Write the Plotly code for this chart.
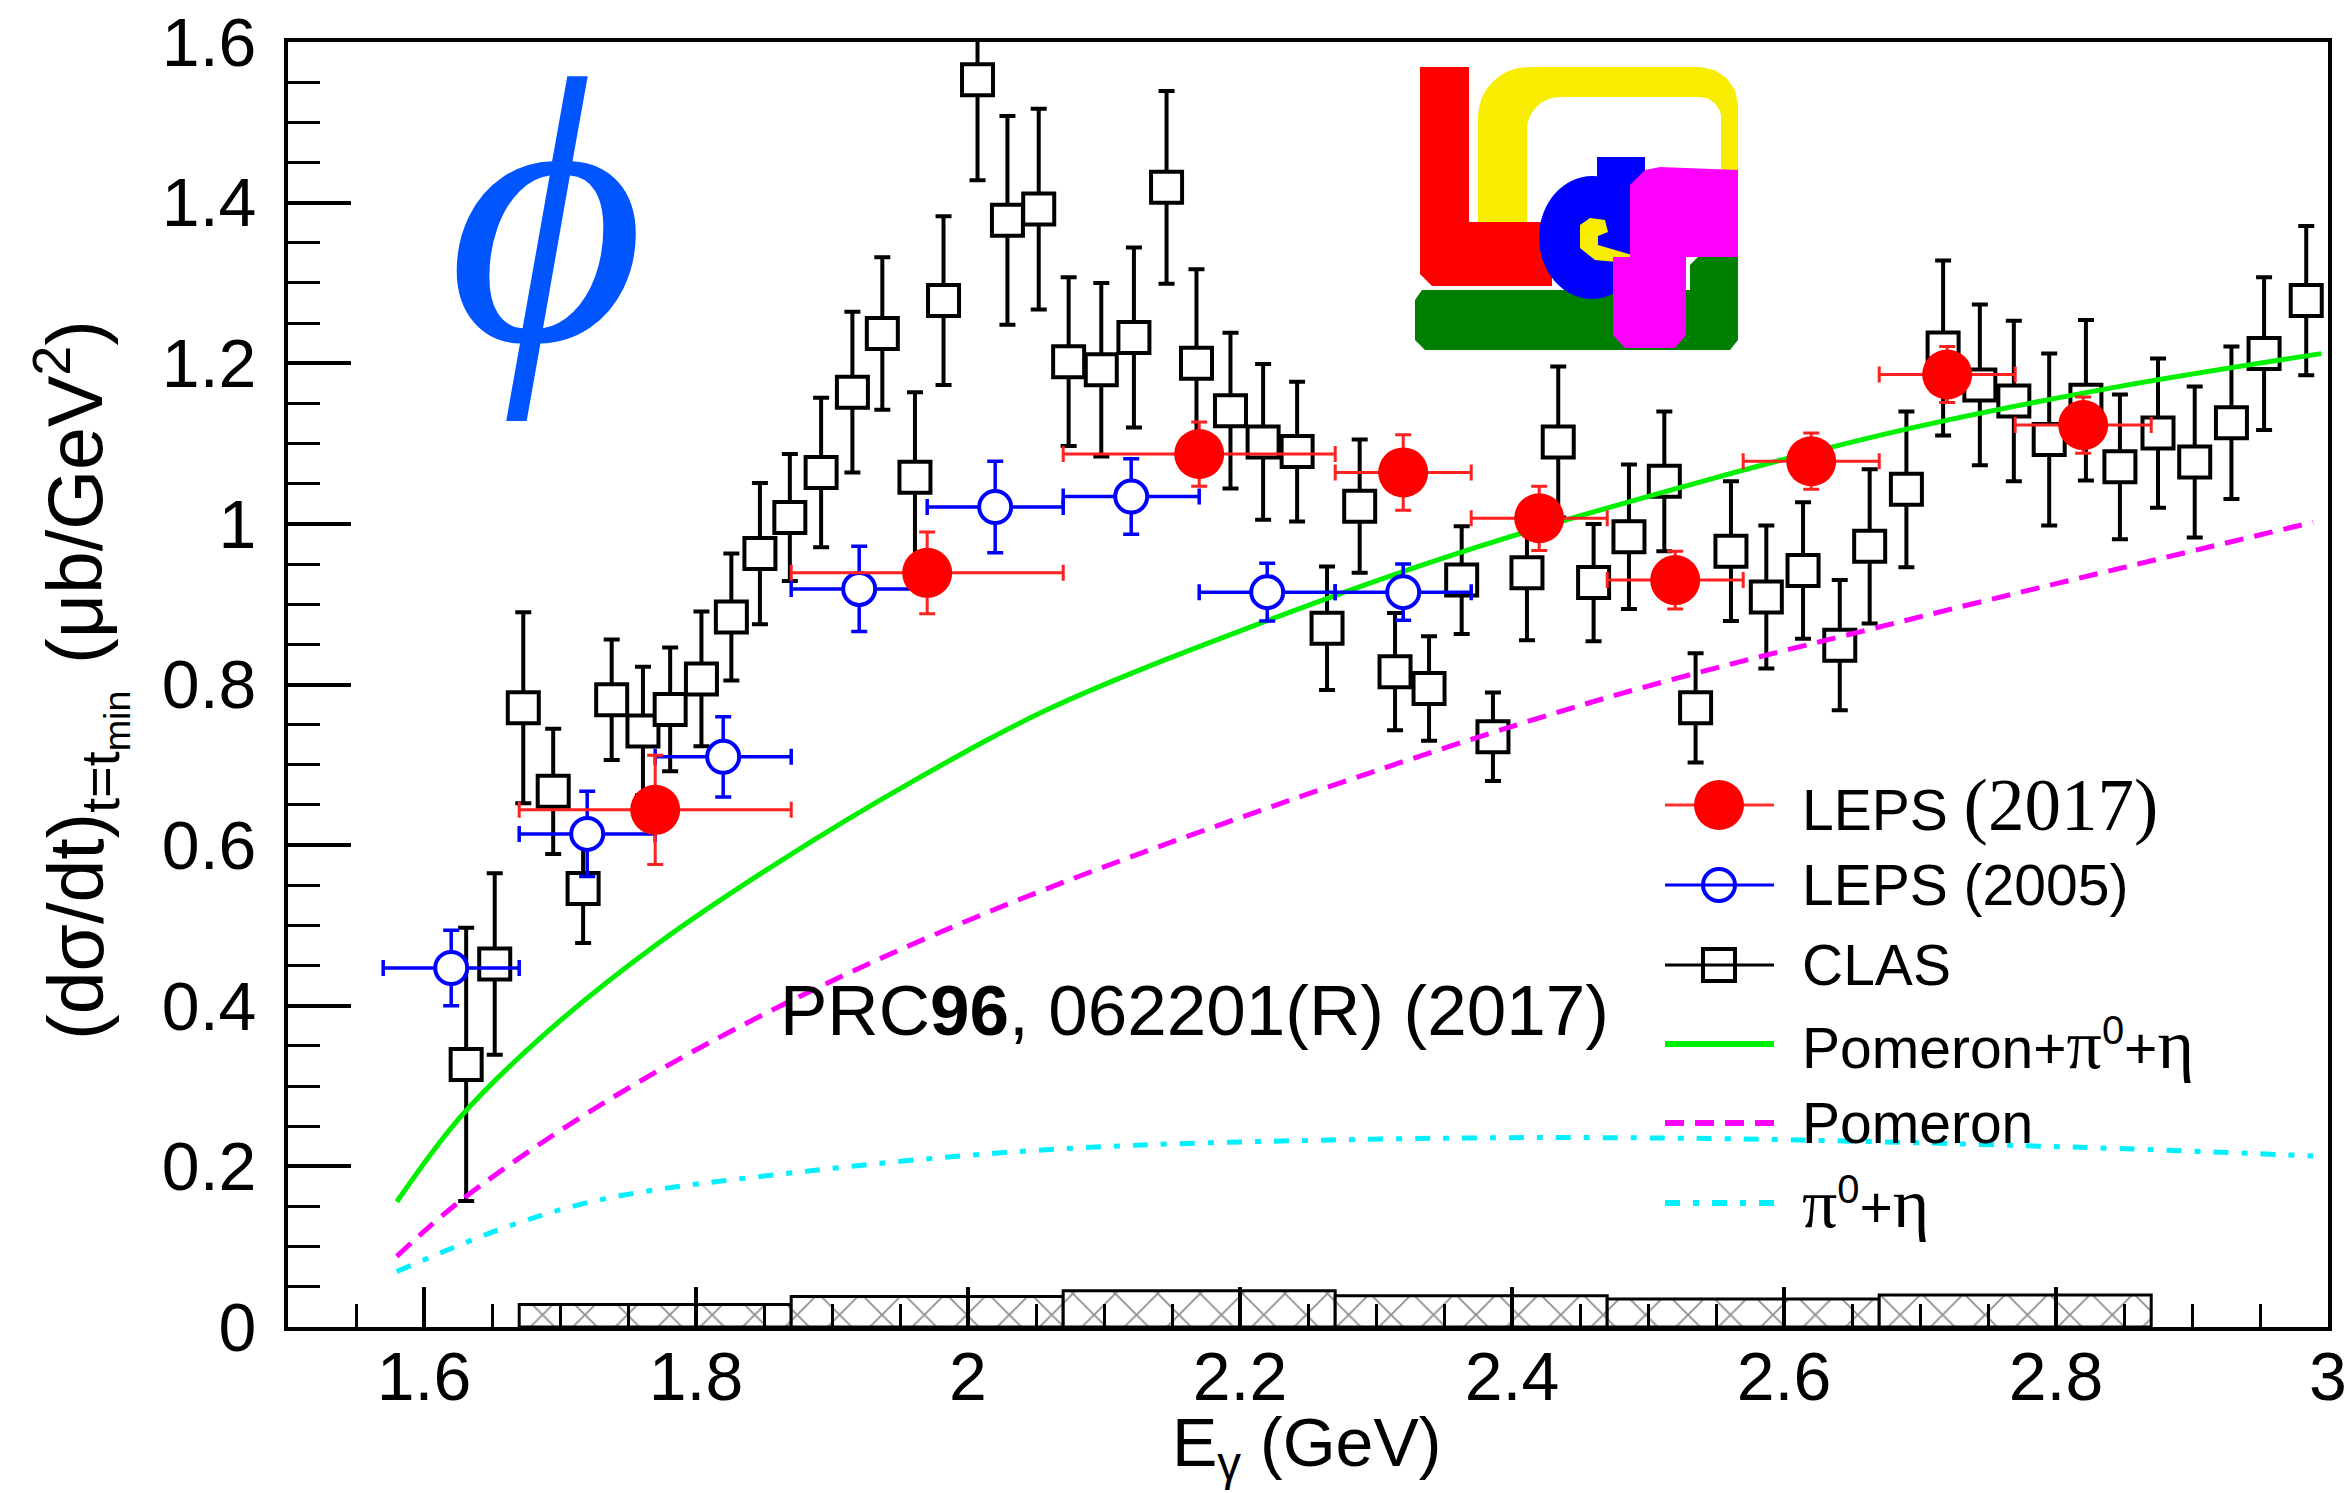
import math
import plotly.graph_objects as go

# ---------------- data ----------------
# CLAS
clas_e = [1.631, 1.652, 1.673, 1.695, 1.717, 1.738, 1.761, 1.781, 1.804, 1.826,
          1.847, 1.869, 1.892, 1.915, 1.937, 1.961, 1.982, 2.007, 2.029, 2.052,
          2.074, 2.098, 2.122, 2.146, 2.168, 2.193, 2.217, 2.242, 2.264, 2.288,
          2.314, 2.339, 2.363, 2.386, 2.411, 2.434, 2.460, 2.486, 2.512, 2.535,
          2.561, 2.587, 2.614, 2.641, 2.663, 2.690, 2.717, 2.744, 2.769, 2.795,
          2.822, 2.847, 2.875, 2.902, 2.929, 2.953, 2.984]
clas_v = [0.327, 0.452, 0.771, 0.667, 0.546, 0.781, 0.742, 0.769, 0.807, 0.884,
          0.963, 1.008, 1.064, 1.164, 1.237, 1.058, 1.278, 1.553, 1.378, 1.392,
          1.202, 1.192, 1.232, 1.419, 1.200, 1.141, 1.102, 1.090, 0.870, 1.022,
          0.816, 0.795, 0.930, 0.735, 0.939, 1.102, 0.927, 0.984, 1.053, 0.771,
          0.966, 0.909, 0.942, 0.849, 0.972, 1.043, 1.219, 1.173, 1.153, 1.105,
          1.154, 1.071, 1.113, 1.077, 1.126, 1.212, 1.278]
clas_err = [0.170, 0.113, 0.119, 0.078, 0.068, 0.075, 0.080, 0.077, 0.084, 0.079,
            0.088, 0.079, 0.093, 0.100, 0.095, 0.106, 0.105, 0.125, 0.130, 0.125,
            0.105, 0.108, 0.112, 0.120, 0.117, 0.097, 0.097, 0.087, 0.077, 0.083,
            0.073, 0.065, 0.067, 0.055, 0.084, 0.094, 0.073, 0.090, 0.087, 0.068,
            0.087, 0.089, 0.085, 0.081, 0.096, 0.097, 0.109, 0.100, 0.100, 0.107,
            0.100, 0.090, 0.093, 0.094, 0.095, 0.095, 0.093]

# LEPS (2017)
leps17_e = [1.77, 1.97, 2.17, 2.32, 2.42, 2.52, 2.62, 2.72, 2.82]
leps17_v = [0.644, 0.939, 1.087, 1.064, 1.007, 0.930, 1.078, 1.186, 1.123]
leps17_ex = [0.10, 0.10, 0.10, 0.05, 0.05, 0.05, 0.05, 0.05, 0.05]
leps17_ey = [0.068, 0.051, 0.040, 0.047, 0.040, 0.036, 0.035, 0.035, 0.035]

# LEPS (2005)
leps05_e = [1.62, 1.72, 1.82, 1.92, 2.02, 2.12, 2.22, 2.32]
leps05_v = [0.447, 0.614, 0.710, 0.919, 1.021, 1.034, 0.915, 0.915]
leps05_ex = [0.05, 0.05, 0.05, 0.05, 0.05, 0.05, 0.05, 0.05]
leps05_ey = [0.047, 0.053, 0.050, 0.053, 0.057, 0.047, 0.036, 0.035]

# systematic uncertainty band (LEPS 2017 bins)
sys_e = [1.77, 1.97, 2.17, 2.37, 2.57, 2.77]
sys_h = [0.028, 0.038, 0.045, 0.039, 0.035, 0.040]
sys_w = [0.2, 0.2, 0.2, 0.2, 0.2, 0.2]

# model curves
total_e = [1.58, 1.627, 1.689, 1.77, 1.86, 1.96, 2.06, 2.21, 2.365, 2.54, 2.69, 2.843, 2.995]
total_v = [0.156, 0.262, 0.365, 0.475, 0.578, 0.680, 0.770, 0.873, 0.966, 1.053, 1.118, 1.170, 1.212]
pom_e = [1.58, 1.629, 1.736, 1.866, 2.014, 2.225, 2.4645, 2.69, 2.843, 2.989]
pom_v = [0.088, 0.160, 0.283, 0.403, 0.516, 0.649, 0.781, 0.880, 0.943, 1.002]
mes_e = [1.58, 1.663, 1.734, 1.876, 2.06, 2.304, 2.529, 2.812, 2.989]
mes_v = [0.069, 0.126, 0.160, 0.193, 0.221, 0.234, 0.235, 0.224, 0.213]

# ---------------- figure ----------------
W, H = 2347, 1493
ML, MR, MT, MB = 288, 19, 42, 100
PW, PH = W - ML - MR, H - MT - MB
FRAME_BOTTOM = 1327          # page y of the lower frame edge
LABEL_LINE = 1331            # page y of the (invisible) energy-label axis
X_RANGE = [1.5, 3.0]

SANS = "Liberation Sans, Arial, Helvetica, sans-serif"
SERIF = "Liberation Serif, Times New Roman, serif"

GREEN = "#00F000"
MAGENTA = "#FF00FF"
CYAN = "#00F0FF"
POM_DASH = "19px,11px"
MES_DASH = "15px,13px,6px,13px"


def pp(X, Y):
    """pixel position on the page -> paper coordinates"""
    return (X - ML) / PW, (MT + PH - Y) / PH


fig = go.Figure()

fig.add_trace(go.Bar(
    x=sys_e, y=sys_h, width=sys_w,
    marker=dict(color="white", line=dict(color="black", width=3),
                pattern=dict(shape="x", fgcolor="#222222", bgcolor="white",
                             size=30, solidity=0.12)),
    showlegend=False, hoverinfo="skip"))

fig.add_trace(go.Scatter(
    x=clas_e, y=clas_v, mode="markers", name="CLAS",
    marker=dict(symbol="square", size=31, color="white",
                line=dict(color="black", width=4)),
    error_y=dict(type="data", array=clas_err, color="black", thickness=4, width=8),
    showlegend=False))

fig.add_trace(go.Scatter(
    x=mes_e, y=mes_v, mode="lines", line=dict(color=CYAN, width=5, dash=MES_DASH,
                                              shape="spline", smoothing=1.0),
    showlegend=False))
fig.add_trace(go.Scatter(
    x=pom_e, y=pom_v, mode="lines", line=dict(color=MAGENTA, width=5, dash=POM_DASH,
                                              shape="spline", smoothing=1.0),
    showlegend=False))
fig.add_trace(go.Scatter(
    x=total_e, y=total_v, mode="lines", line=dict(color=GREEN, width=5,
                                                  shape="spline", smoothing=1.0),
    showlegend=False))

fig.add_trace(go.Scatter(
    x=leps05_e, y=leps05_v, mode="markers", name="LEPS (2005)",
    marker=dict(symbol="circle", size=32, color="white",
                line=dict(color="#0000FF", width=4)),
    error_x=dict(type="data", array=leps05_ex, color="#0000FF", thickness=3.5, width=8),
    error_y=dict(type="data", array=leps05_ey, color="#0000FF", thickness=3.5, width=8),
    showlegend=False))

# topmost layer: LEPS (2017) on the labelled companion energy axis (same range)
fig.add_trace(go.Scatter(
    x=leps17_e, y=leps17_v, mode="markers", name="LEPS (2017)",
    xaxis="x2", yaxis="y",
    marker=dict(symbol="circle", size=50, color="#FF0000", line=dict(width=0)),
    error_x=dict(type="data", array=leps17_ex, color="#FF2020", thickness=3, width=8),
    error_y=dict(type="data", array=leps17_ey, color="#FF2020", thickness=3, width=8),
    showlegend=False))

TICKFONT = dict(family=SANS, size=68, color="black")
axis_common = dict(
    showline=True, linecolor="black", linewidth=4, mirror=True,
    showgrid=False, zeroline=False, ticks="inside", tickcolor="black", tickwidth=3.5,
    tickfont=TICKFONT,
)
y_domain_low = (MT + PH - FRAME_BOTTOM) / PH
label_pos = (MT + PH - LABEL_LINE) / PH

# frame + inside ticks; the energy labels come from the companion axis below
fig.update_xaxes(range=X_RANGE, dtick=0.2, ticklen=40, showticklabels=False,
                 minor=dict(ticks="inside", ticklen=23, tickwidth=3, dtick=0.05,
                            tickcolor="black", showgrid=False),
                 **axis_common)
fig.update_yaxes(range=[0, 1.6], domain=[y_domain_low, 1.0], dtick=0.2, ticklen=63,
                 ticklabelstandoff=14,
                 minor=dict(ticks="inside", ticklen=32, tickwidth=3, dtick=0.05,
                            tickcolor="black", showgrid=False),
                 **axis_common)
fig.update_layout(xaxis2=dict(
    overlaying="x", anchor="free", position=label_pos, side="bottom",
    range=X_RANGE, dtick=0.2, showline=False, showgrid=False, zeroline=False,
    ticks="", showticklabels=True, tickfont=TICKFONT))

shapes = []
annotations = []


def add_text(X, Y, text, size, family=SANS, xanchor="left", yanchor="middle",
             angle=0, color="black"):
    px_, py_ = pp(X, Y)
    annotations.append(dict(
        x=px_, y=py_, xref="paper", yref="paper", text=text, showarrow=False,
        xanchor=xanchor, yanchor=yanchor, textangle=angle,
        font=dict(family=family, size=size, color=color)))


def add_poly(points, color):
    coords = [pp(X, Y) for X, Y in points]
    path = "M " + " L ".join(f"{a:.5f},{b:.5f}" for a, b in coords) + " Z"
    shapes.append(dict(type="path", path=path, xref="paper", yref="paper",
                       fillcolor=color, line=dict(width=0), layer="above"))


def arc(cx, cy, r, a0, a1, n=8):
    """points along a circular arc (angles in degrees, screen orientation)"""
    return [(cx + r * math.cos(math.radians(a0 + (a1 - a0) * i / n)),
             cy + r * math.sin(math.radians(a0 + (a1 - a0) * i / n))) for i in range(n + 1)]


def add_rect(X0, Y0, X1, Y1, color):
    a0, b0 = pp(X0, Y1)
    a1, b1 = pp(X1, Y0)
    shapes.append(dict(type="rect", x0=a0, y0=b0, x1=a1, y1=b1, xref="paper",
                       yref="paper", fillcolor=color, line=dict(width=0), layer="above"))


def add_ellipse(X0, Y0, X1, Y1, fill, line_color=None, line_width=0):
    a0, b0 = pp(X0, Y1)
    a1, b1 = pp(X1, Y0)
    shapes.append(dict(type="circle", x0=a0, y0=b0, x1=a1, y1=b1, xref="paper",
                       yref="paper", fillcolor=fill,
                       line=dict(color=line_color or fill, width=line_width),
                       layer="above"))


def add_seg(X0, Y0, X1, Y1, color, width, dash="solid"):
    a0, b0 = pp(X0, Y0)
    a1, b1 = pp(X1, Y1)
    shapes.append(dict(type="line", x0=a0, y0=b0, x1=a1, y1=b1, xref="paper",
                       yref="paper", line=dict(color=color, width=width, dash=dash),
                       layer="above"))


# ---- LEPS logo ----
yellow_outline = ([(1478, 232)] + arc(1528, 117, 50, 180, 270) +
                  [(1700, 67)] + arc(1700, 105, 38, 270, 360, 4) +
                  [(1738, 190), (1721, 190), (1721, 115)] +
                  arc(1700, 118, 21, 0, -90, 4)[1:] +
                  [(1560, 97)] + arc(1560, 130, 33, 270, 180)[1:] +
                  [(1527, 222), (1510, 236), (1492, 236)])
add_poly(yellow_outline, "#F8EC00")
add_poly([(1420, 67), (1469, 67), (1469, 222), (1552, 222), (1552, 286), (1432, 286),
          (1420, 274)], "#FF0000")
add_poly([(1415, 300), (1422, 290), (1690, 290), (1690, 265), (1700, 255), (1738, 255),
          (1738, 340), (1730, 350), (1425, 350), (1415, 340)], "#008000")
add_ellipse(1539, 176, 1645, 299, "#0000FF")
add_rect(1597, 157, 1645, 205, "#0000FF")
add_poly([(1580, 225), (1590, 218), (1605, 220), (1608, 232), (1598, 236), (1598, 245),
          (1632, 255), (1628, 263), (1595, 260), (1580, 248)], "#F8EC00")
add_poly([(1630, 185), (1645, 170), (1660, 167), (1738, 170), (1738, 257), (1686, 257),
          (1686, 335), (1675, 348), (1625, 348), (1613, 335), (1613, 257), (1630, 257)],
         "#FF00FF")

# ---- phi label ----
add_text(546, 212, "<i>ϕ</i>", 380, family="Liberation Serif, DejaVu Serif, serif",
         xanchor="center", color="#0055FF")

# ---- reference label ----
add_text(778, 1010, "PRC<b>96</b>, 062201(R) (2017)", 71)

# ---- legend ----
LX0, LX1, LXM, LTX = 1665, 1774, 1719, 1800
rows = [805, 885, 965, 1044, 1123, 1203]
add_seg(LX0, rows[0], LX1, rows[0], "#FF3030", 3)
add_ellipse(LXM - 25, rows[0] - 25, LXM + 25, rows[0] + 25, "#FF0000")
add_seg(LX0, rows[1], LX1, rows[1], "#0000FF", 3)
add_ellipse(LXM - 16, rows[1] - 16, LXM + 16, rows[1] + 16, "rgba(0,0,0,0)", "#0000FF", 4)
add_seg(LX0, rows[2], LX1, rows[2], "black", 3)
sq0 = pp(LXM - 16, rows[2] + 16)
sq1 = pp(LXM + 16, rows[2] - 16)
shapes.append(dict(type="rect", x0=sq0[0], y0=sq0[1], x1=sq1[0], y1=sq1[1],
                   xref="paper", yref="paper", line=dict(color="black", width=4),
                   fillcolor="rgba(0,0,0,0)", layer="above"))
add_seg(LX0, rows[3], LX1, rows[3], GREEN, 6)
add_seg(LX0, rows[4], LX1, rows[4], MAGENTA, 6, POM_DASH)
add_seg(LX0, rows[5], LX1, rows[5], CYAN, 6, MES_DASH)

LFS = 57


def serif(s, size=64):
    return f"<span style='font-family:{SERIF};font-size:{size}px'>{s}</span>"


add_text(LTX, rows[0], "LEPS " + serif("(2017)", 73), LFS)
add_text(LTX, rows[1], "LEPS (2005)", LFS)
add_text(LTX, rows[2], "CLAS", LFS)
add_text(LTX, rows[3], "Pomeron+" + serif("π", 70) + "<sup>0</sup>+" + serif("η", 70), LFS)
add_text(LTX, rows[4], "Pomeron", LFS)
add_text(LTX, rows[5], serif("π", 70) + "<sup>0</sup>+" + serif("η", 70), LFS)

# ---- axis titles ----
add_text(1306, 1492, "E<sub>γ</sub> (GeV)", 68, xanchor="center", yanchor="bottom")
add_text(69, 492, "(μb/GeV<sup>2</sup>)", 77, xanchor="center", angle=-90)
add_text(85, 866, "(dσ/dt)<sub>t=t<sub>min</sub></sub>", 77, xanchor="center", angle=-90)

fig.update_layout(
    width=W, height=H,
    margin=dict(l=ML, r=MR, t=MT, b=MB, autoexpand=False),
    paper_bgcolor="white", plot_bgcolor="white",
    barmode="overlay", showlegend=False,
    shapes=shapes, annotations=annotations,
    font=dict(family=SANS, color="black"),
)

fig.write_html("out.html")
